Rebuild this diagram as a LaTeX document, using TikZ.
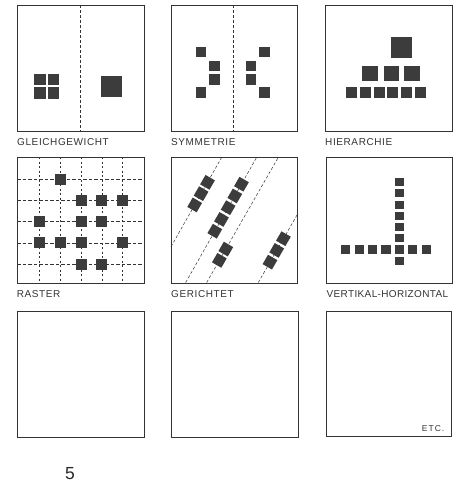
\documentclass[tikz,border=0pt]{standalone}
\usepackage{fontspec}
\setmainfont{Liberation Sans}
\newfontfamily\labfont[LetterSpace=6]{Liberation Sans}
\newfontfamily\labfontn[LetterSpace=3.5]{Liberation Sans}
\newfontfamily\etcfont[LetterSpace=12]{Liberation Sans}
\usetikzlibrary{calc}
\definecolor{ink}{HTML}{333333}
\definecolor{blk}{HTML}{3C3C3C}
\tikzset{
  panel/.style={draw=ink, line width=0.9pt, minimum width=126.5pt, minimum height=126pt, inner sep=0pt, anchor=north west},
  blkbox/.style={fill=blk, draw=none, inner sep=0pt, minimum size=#1},
  blkrect/.style 2 args={fill=blk, draw=none, inner sep=0pt, minimum width=#1, minimum height=#2},
  lbl/.style={font=\labfont\fontsize{10}{11}\selectfont, text=ink, inner sep=0pt, anchor=base west},
  axisdash/.style={draw=ink, line width=0.6pt, dash pattern=on 3pt off 2pt},
  gridh/.style={draw=ink, line width=0.55pt, dash pattern=on 3.5pt off 2pt},
  gridv/.style={draw=ink, line width=0.55pt, dash pattern=on 2pt off 2.5pt},
}
\begin{document}
\begin{tikzpicture}[x=1pt,y=-1pt]
\useasboundingbox (0,0) rectangle (456,482);

% panels
\node[panel] (b1) at (17,5) {};
\node[panel] (b2) at (170.5,5) {};
\node[panel] (b3) at (325,4.5) {};
\node[panel] (b4) at (17,157) {};
\node[panel] (b5) at (170.5,157) {};
\node[panel] (b6) at (325.5,157) {};
\node[panel] (b7) at (17,311) {};
\node[panel] (b8) at (171,311) {};
\node[panel, minimum width=124.5pt, minimum height=125pt] (b9) at (326,311) {};

% labels
\node[lbl] (t1) at (17,145.5) {GLEICHGEWICHT};
\node[lbl] (t2) at (171,145.5) {SYMMETRIE};
\node[lbl] (t3) at (325,145.5) {HIERARCHIE};
\node[lbl] (t4) at (16.7,297.3) {RASTER};
\node[lbl] (t5) at (171,297.3) {GERICHTET};
\node[lbl, font=\labfontn\fontsize{10}{11}\selectfont] (t6) at (326.5,297) {VERTIKAL-HORIZONTAL};
\node[font=\etcfont\fontsize{8.5}{9}\selectfont, text=ink, inner sep=0pt, anchor=base east] (etc) at (444.5,431.7) {ETC.};
\node[font=\fontsize{17.5}{18}\selectfont, text=black!85, inner sep=0pt, anchor=base] (num) at (70,479) {5};

% 1 Gleichgewicht
\draw[axisdash] (b1.north) -- (b1.south);
\node[blkbox=11.3pt] (g1) at (40,79.7) {};
\node[blkbox=11.3pt] (g2) at (53.3,79.7) {};
\node[blkbox=11.3pt] (g3) at (40,93) {};
\node[blkbox=11.3pt] (g4) at (53.3,93) {};
\node[blkbox=21.3pt] (g5) at (111.3,86.3) {};

% 2 Symmetrie
\draw[axisdash] ([xshift=-1.3pt]b2.north) -- ([xshift=-1.3pt]b2.south);
\node[blkbox=10.7pt] (s1) at (201,52) {};
\node[blkbox=10.7pt] (s2) at (214.5,66) {};
\node[blkbox=10.7pt] (s3) at (214.5,79.2) {};
\node[blkbox=10.7pt] (s4) at (201,92.8) {};
\node[blkbox=10.7pt] (s5) at (264.5,52) {};
\node[blkbox=10.7pt] (s6) at (251.1,66) {};
\node[blkbox=10.7pt] (s7) at (251.1,79.2) {};
\node[blkbox=10.7pt] (s8) at (264.5,92.8) {};

% 3 Hierarchie
\node[blkbox=20.7pt] (h0) at (401.3,47.7) {};
\foreach \i/\x in {1/370,2/391.3,3/412}
  \node[blkbox=15.3pt] (hm\i) at (\x,73.7) {};
\foreach \k in {0,...,5}
  \node[blkbox=11pt] (hb\k) at ({351.7+13.75*\k},92.2) {};

% 4 Raster
\foreach \x in {39.5,60.3,81,101.8,122.6}
  \draw[gridv] (\x,157) -- (\x,283);
\foreach \y in {179.3,200.5,221.7,242.9,264.1}
  \draw[gridh] (17,\y) -- (143.5,\y);
\foreach \c/\r [count=\n] in {2/1, 3/2,4/2,5/2, 1/3,3/3,4/3, 1/4,2/4,3/4,5/4, 3/5,4/5}{
  \pgfmathsetmacro{\xx}{39.5+20.78*(\c-1)}
  \pgfmathsetmacro{\yy}{179.3+21.2*(\r-1)}
  \node[blkbox=11pt] (r\n) at (\xx,\yy) {};
}

% 5 Gerichtet
\coordinate (l1s) at (171,246.7);   \coordinate (l1e) at (221.7,157.3);
\coordinate (l2s) at (185.7,282.5); \coordinate (l2e) at (256.7,157.3);
\coordinate (l3s) at (206.7,282.5); \coordinate (l3e) at (278.3,157.3);
\coordinate (l4s) at (258.3,282.5); \coordinate (l4e) at (297,215);
\foreach \l in {1,2,3,4}
  \draw[axisdash, line width=0.5pt] (l\l s) -- (l\l e);
\foreach \d [count=\n] in {48,61,74}
  \node[blkbox=10.8pt, rotate=60] (ga\n) at ($(l1s)!\d pt!(l1e)$) {};
\foreach \d [count=\n] in {59,72.5,86,99.5,113}
  \node[blkbox=10.8pt, rotate=60] (gb\n) at ($(l2s)!\d pt!(l2e)$) {};
\foreach \d [count=\n] in {25.5,38.5}
  \node[blkbox=10.8pt, rotate=60] (gc\n) at ($(l3s)!\d pt!(l3e)$) {};
\foreach \d [count=\n] in {23.5,37,50.5}
  \node[blkbox=10.8pt, rotate=60] (gd\n) at ($(l4s)!\d pt!(l4e)$) {};

% 6 Vertikal-Horizontal
\foreach \k in {0,...,5,7}
  \node[blkrect={9pt}{8pt}] (v\k) at (399.5,{182.2+11.2*\k}) {};
\foreach \k in {0,...,6}
  \node[blkrect={9.2pt}{8.6pt}] (hz\k) at ({345.8+13.4*\k},249.4) {};
\end{tikzpicture}
\end{document}
